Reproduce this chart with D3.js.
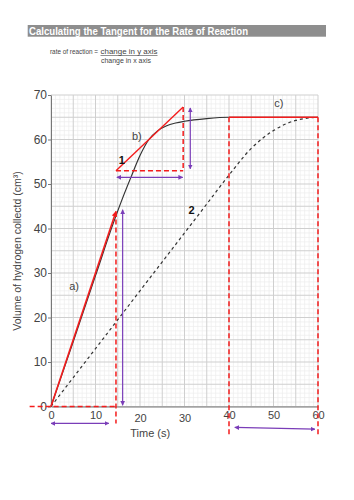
<!DOCTYPE html>
<html>
<head>
<meta charset="utf-8">
<script src="https://cdn.jsdelivr.net/npm/d3@7"></script>
<style>
  body { margin: 0; background: #fff; }
  svg { display: block; font-family: "Liberation Sans", Arial, sans-serif; }
</style>
</head>
<body>
<div id="chart-div"></div>
<script>
// curve 1 (solid)
const timeS   = [0, 5, 10, 14, 16, 18, 20, 22, 24, 26, 28, 30, 35, 40, 45, 50, 55, 60];
const volume1 = [0, 14.6, 29.4, 41.2, 46.6, 51.6, 56.4, 60, 62, 63.1, 63.7, 64.1, 64.7, 65, 65, 65, 65, 65];
// curve 2 (dashed)
const time2   = [0, 5, 10, 15, 20, 25, 30, 35, 40, 45, 50, 55, 60];
const volume2 = [0, 6.5, 13, 19.5, 26, 32.5, 39, 45.5, 52, 58, 62, 64.3, 65];

const xTicks = [0, 10, 20, 30, 40, 50, 60];
const yTicks = [0, 10, 20, 30, 40, 50, 60, 70];

// tangent / construction lines, in (time, volume)
const tangentA = [[0, 0], [14.6, 43.8]];
const tangentB = [[14.6, 53], [29.7, 67.3]];
const tangentC = [[40, 65], [60, 65]];
const redDashed = [
  [[-4.8, 0], [14.6, 0]],
  [[14.6, 43.8], [14.6, -3.8]],
  [[14.6, 53], [29.7, 53]],
  [[29.7, 67.3], [29.7, 53]],
  [[40, 65], [40, -6.8]],
  [[60, 65], [60, -6.8]]
];
const purpleArrows = [
  [[0, -3.8], [13, -3.8]],
  [[16.1, 0.3], [16.1, 44.2]],
  [[14.8, 51.5], [29.6, 51.5]],
  [[31.3, 53.4], [31.3, 67.1]],
  [[41.3, -4.7], [59.3, -5.1]]
];
const labels = [
  {t: "a)", x: 5.2, y: 26.9, bold: false},
  {t: "b)", x: 19.3, y: 60.6, bold: false},
  {t: "c)", x: 51.2, y: 68, bold: false},
  {t: "1", x: 15.9, y: 55.2, bold: true},
  {t: "2", x: 31.6, y: 43.8, bold: true}
];

const width = 354;
const height = 500;

const xScale = d3.scaleLinear().domain([0, 60]).range([51, 318]);
const yScale = d3.scaleLinear().domain([0, 70]).range([406.5, 95]);

const svg = d3.select("#chart-div")
              .append("svg")
              .attr("width", width)
              .attr("height", height);

const defs = svg.append("defs");
defs.append("marker").attr("id", "pArrow")
    .attr("viewBox", "0 0 10 10").attr("refX", 9).attr("refY", 5)
    .attr("markerWidth", 4).attr("markerHeight", 4).attr("orient", "auto-start-reverse")
    .append("path").attr("d", "M0,0L10,5L0,10z").attr("fill", "#7a3db8");
defs.append("marker").attr("id", "rArrow")
    .attr("viewBox", "0 0 10 10").attr("refX", 9).attr("refY", 5)
    .attr("markerWidth", 3.5).attr("markerHeight", 3.5).attr("orient", "auto")
    .append("path").attr("d", "M0,0L10,5L0,10z").attr("fill", "#f41c1c");

/* title bar */
svg.append("rect").attr("x", 27.7).attr("y", 25).attr("width", 298.3).attr("height", 11.7)
   .attr("fill", "#8e8e8e");
svg.append("text").attr("x", 29).attr("y", 34.6)
   .attr("font-size", 10).attr("font-weight", "bold").attr("fill", "#fff")
   .attr("textLength", 219).attr("lengthAdjust", "spacingAndGlyphs")
   .text("Calculating the Tangent for the Rate of Reaction");

// formula
svg.append("text").attr("x", 50).attr("y", 54).attr("font-size", 7).attr("fill", "#444")
   .attr("textLength", 48).attr("lengthAdjust", "spacingAndGlyphs")
   .text("rate of reaction =");
svg.append("text").attr("x", 100.5).attr("y", 54).attr("font-size", 7).attr("fill", "#444")
   .attr("textLength", 57).attr("lengthAdjust", "spacingAndGlyphs")
   .text("change in y axis");
svg.append("line").attr("x1", 100.5).attr("x2", 157.5).attr("y1", 55.5).attr("y2", 55.5)
   .attr("stroke", "#444").attr("stroke-width", 0.6);
svg.append("text").attr("x", 101).attr("y", 63).attr("font-size", 7).attr("fill", "#444")
   .attr("textLength", 50).attr("lengthAdjust", "spacingAndGlyphs")
   .text("change in x axis");

/* grid */
const grid = svg.append("g");
grid.selectAll(".minx").data(d3.range(0, 61, 1)).enter().append("line")
    .attr("x1", d => xScale(d)).attr("x2", d => xScale(d))
    .attr("y1", yScale(0)).attr("y2", yScale(70))
    .attr("stroke", d => d % 5 === 0 ? "#cfcfcf" : "#ececec").attr("stroke-width", d => d % 5 === 0 ? 1 : 0.7);
grid.selectAll(".miny").data(d3.range(0, 71, 1)).enter().append("line")
    .attr("y1", d => yScale(d)).attr("y2", d => yScale(d))
    .attr("x1", xScale(0)).attr("x2", xScale(60))
    .attr("stroke", d => d % 5 === 0 ? "#cfcfcf" : "#ececec").attr("stroke-width", d => d % 5 === 0 ? 1 : 0.7);
grid.selectAll("line").sort((a, b) => (a % 5 === 0) - (b % 5 === 0));

/* axes */
const yAxis = d3.axisLeft(yScale).tickValues(yTicks).tickSize(3).tickSizeOuter(0);
const xAxis = d3.axisBottom(xScale).tickValues(xTicks).tickSize(0).tickSizeOuter(0);

const gy = svg.append("g").attr("transform", `translate(${xScale(0)},0)`).call(yAxis);
gy.select(".domain").attr("stroke", "#777");
gy.selectAll(".tick line").attr("stroke", "#777");
gy.selectAll("text").attr("font-size", 12).attr("fill", "#444").attr("x", -4)
  .attr("font-family", "Liberation Sans, Arial, sans-serif");

const gx = svg.append("g").attr("transform", `translate(0,${yScale(0)})`).call(xAxis);
gx.select(".domain").attr("stroke", "#777");
gx.selectAll("text").attr("font-size", 11).attr("fill", "#444")
  .attr("font-family", "Liberation Sans, Arial, sans-serif")
  .attr("y", d => (d === 20 || d === 30) ? 8 : 5);

svg.append("text").attr("x", xScale(22.3)).attr("y", 437).attr("text-anchor", "middle")
   .attr("font-size", 11).attr("fill", "#444").text("Time (s)");
svg.append("text").attr("transform", "translate(21,251) rotate(-90)").attr("text-anchor", "middle")
   .attr("font-size", 10.5).attr("fill", "#444").text("Volume of hydrogen collectd (cm³)");

/* curves */
const line = d3.line().x(d => xScale(d[0])).y(d => yScale(d[1]));
const smooth = d3.line().x(d => xScale(d[0])).y(d => yScale(d[1])).curve(d3.curveMonotoneX);

svg.append("path").datum(time2.map((t, i) => [t, volume2[i]]))
   .attr("d", smooth).attr("fill", "none").attr("stroke", "#333")
   .attr("stroke-width", 1.2).attr("stroke-dasharray", "3,3");
svg.append("path").datum(timeS.map((t, i) => [t, volume1[i]]))
   .attr("d", smooth).attr("fill", "none").attr("stroke", "#333").attr("stroke-width", 1.2);

// red dashed construction lines
svg.selectAll(".rdash").data(redDashed).enter().append("path")
   .attr("d", line).attr("fill", "none").attr("stroke", "#f41c1c")
   .attr("stroke-width", 1.5).attr("stroke-dasharray", "5,3");

// tangents
svg.append("path").datum(tangentA).attr("d", line).attr("fill", "none")
   .attr("stroke", "#f41c1c").attr("stroke-width", 1.6).attr("marker-end", "url(#rArrow)");
svg.append("path").datum(tangentB).attr("d", line).attr("fill", "none")
   .attr("stroke", "#f41c1c").attr("stroke-width", 1.4);
svg.append("path").datum(tangentC).attr("d", line).attr("fill", "none")
   .attr("stroke", "#f41c1c").attr("stroke-width", 1.4);

// purple double arrows
svg.selectAll(".parrow").data(purpleArrows).enter().append("path")
   .attr("d", line).attr("fill", "none").attr("stroke", "#7a3db8").attr("stroke-width", 1.2)
   .attr("marker-start", "url(#pArrow)").attr("marker-end", "url(#pArrow)");

// labels
svg.selectAll(".lbl").data(labels).enter().append("text")
   .attr("x", d => xScale(d.x)).attr("y", d => yScale(d.y))
   .attr("text-anchor", "middle").attr("dominant-baseline", "middle")
   .attr("font-size", 11).attr("font-weight", d => d.bold ? "bold" : "normal")
   .attr("fill", d => d.bold ? "#111" : "#444")
   .text(d => d.t);
</script>
</body>
</html>
